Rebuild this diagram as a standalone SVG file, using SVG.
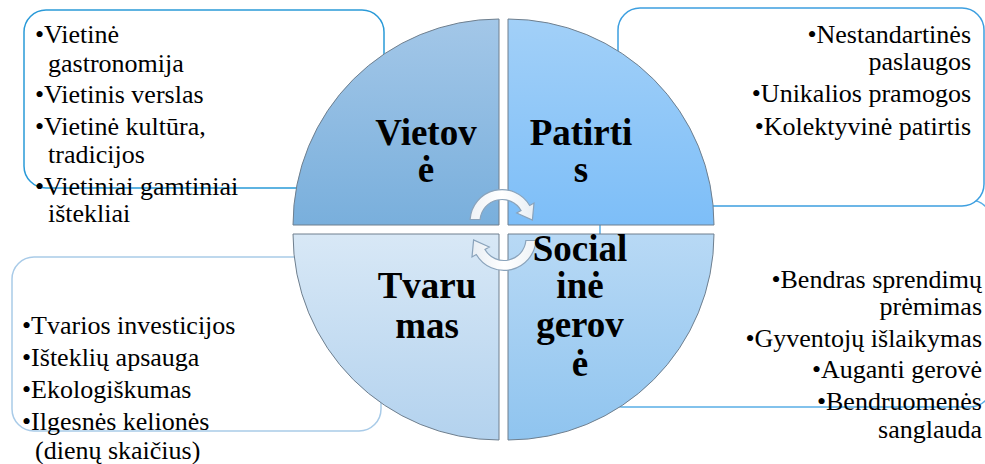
<svg xmlns="http://www.w3.org/2000/svg" width="985" height="464" viewBox="0 0 985 464">
<defs>
<linearGradient id="gTL" x1="0" y1="0" x2="0" y2="1"><stop offset="0" stop-color="#a3c7e8"/><stop offset="1" stop-color="#79afdc"/></linearGradient>
<linearGradient id="gTR" x1="0" y1="0" x2="0" y2="1"><stop offset="0" stop-color="#a2d0f8"/><stop offset="1" stop-color="#7dbef8"/></linearGradient>
<linearGradient id="gBL" x1="0" y1="0" x2="0" y2="1"><stop offset="0" stop-color="#d8e8f6"/><stop offset="1" stop-color="#b3d2ee"/></linearGradient>
<linearGradient id="gBR" x1="0" y1="0" x2="0" y2="1"><stop offset="0" stop-color="#b8d9f5"/><stop offset="1" stop-color="#8fc4ef"/></linearGradient>
<linearGradient id="gArr" x1="0" y1="0" x2="1" y2="0"><stop offset="0" stop-color="#eef2f6"/><stop offset="0.5" stop-color="#ffffff"/><stop offset="1" stop-color="#e8eef4"/></linearGradient>
<path id="arr" d="M -31.9,-2 A 32 32 0 0 1 27.7,-16 L 32,-18.5 L 30.4,-1.4 L 14.7,-8.5 L 19.05,-11 A 22 22 0 0 0 -21.9,-2 Z"/>
</defs>
<style>
.box{fill:#ffffff;stroke-width:1.5}
.q{stroke:#6f7f8e;stroke-width:1}
.t{font-family:'Liberation Serif','Times New Roman',serif;font-size:26px;fill:#000}
.r{text-anchor:end}
.lbl{font-family:'Liberation Serif','Times New Roman',serif;font-size:37px;font-weight:bold;fill:#000;text-anchor:middle}
.arrow{fill:url(#gArr);stroke:#8aa3bb;stroke-width:1.2}
</style>

<g id="box-bottom-right">
<rect class="box" x="600" y="200" width="392" height="207" rx="22" stroke="#5aaee6"/>
</g>
<g id="box-top-left">
<rect class="box" x="24" y="10" width="360" height="178" rx="22" stroke="#2a9ad8"/>
</g>
<g id="box-top-right">
<rect class="box" x="618" y="8" width="366" height="198" rx="22" stroke="#3d9fe0"/>
</g>
<g id="box-bottom-left">
<rect class="box" x="12" y="257" width="369" height="174" rx="22" stroke="#a9cbe8"/>
</g>

<g id="quadrant-vietove">
<path class="q" d="M 499,225 L 293,225 A 206 206 0 0 1 499,19 Z" fill="url(#gTL)"/>
</g>
<g id="quadrant-patirtis">
<path class="q" d="M 508,225 L 508,19 A 206 206 0 0 1 714,225 Z" fill="url(#gTR)"/>
</g>
<g id="quadrant-tvarumas">
<path class="q" d="M 499,234 L 499,440 A 206 206 0 0 1 293,234 Z" fill="url(#gBL)"/>
</g>
<g id="quadrant-socialine-gerove">
<path class="q" d="M 508,234 L 714,234 A 206 206 0 0 1 508,440 Z" fill="url(#gBR)"/>
</g>

<g id="connectors">
<use href="#arr" class="arrow" transform="translate(502,221.5)"/>
<use href="#arr" class="arrow" transform="translate(504,238.5) rotate(180)"/>
</g>

<g id="labels">
<text class="lbl" x="426" y="145">Vietov</text>
<text class="lbl" x="426" y="182">ė</text>
<text class="lbl" x="581" y="145">Patirti</text>
<text class="lbl" x="581" y="182">s</text>
<text class="lbl" x="427" y="298">Tvaru</text>
<text class="lbl" x="427" y="338">mas</text>
<text class="lbl" x="580" y="261">Social</text>
<text class="lbl" x="580" y="298">inė</text>
<text class="lbl" x="580" y="337">gerov</text>
<text class="lbl" x="580" y="376">ė</text>
</g>

<g id="text-top-left">
<text class="t" x="35" y="43">•Vietinė</text>
<text class="t" x="48" y="72">gastronomija</text>
<text class="t" x="35" y="103">•Vietinis verslas</text>
<text class="t" x="35" y="135">•Vietinė kultūra,</text>
<text class="t" x="48" y="163">tradicijos</text>
<text class="t" x="35" y="195">•Vietiniai gamtiniai</text>
<text class="t" x="48" y="222">ištekliai</text>
</g>

<g id="text-top-right">
<text class="t r" x="971" y="43">•Nestandartinės</text>
<text class="t r" x="971" y="70">paslaugos</text>
<text class="t r" x="971" y="102">•Unikalios pramogos</text>
<text class="t r" x="971" y="135">•Kolektyvinė patirtis</text>
</g>

<g id="text-bottom-left">
<text class="t" x="22" y="334">•Tvarios investicijos</text>
<text class="t" x="22" y="366">•Išteklių apsauga</text>
<text class="t" x="22" y="398">•Ekologiškumas</text>
<text class="t" x="22" y="430">•Ilgesnės kelionės</text>
<text class="t" x="35" y="459">(dienų skaičius)</text>
</g>

<g id="text-bottom-right">
<text class="t r" x="982" y="288">•Bendras sprendimų</text>
<text class="t r" x="982" y="315">prėmimas</text>
<text class="t r" x="982" y="347">•Gyventojų išlaikymas</text>
<text class="t r" x="982" y="378">•Auganti gerovė</text>
<text class="t r" x="982" y="410">•Bendruomenės</text>
<text class="t r" x="982" y="438">sanglauda</text>
</g>
</svg>
